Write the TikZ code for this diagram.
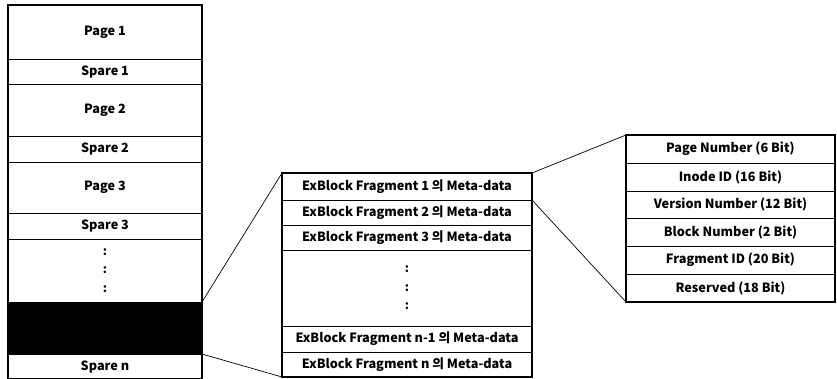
\documentclass[tikz,border=0pt]{standalone}
\usepackage{fontspec}
\setmainfont{Noto Sans CJK KR}
\begin{document}
\begin{tikzpicture}[x=1pt,y=-1pt,
  cell/.style={draw, line width=0.8pt, inner sep=0pt, outer sep=0pt, anchor=north west,
    font=\fontsize{12.7}{14}\selectfont\bfseries, text=black},
  lcell/.style={cell, minimum width=194pt},
  mcell/.style={cell, minimum width=250pt},
  rcell/.style={cell, minimum width=209pt},
  frame/.style={draw, line width=2.2pt},
  link/.style={draw, line width=0.7pt},
  dotsL/.style={align=center, font=\fontsize{12}{18.5}\selectfont\bfseries}]
\useasboundingbox (0,0) rectangle (837,378);
% left column
\node[lcell, minimum height=54pt] (p1) at (8,5) {Page 1};
\node[lcell, minimum height=25pt] (s1) at (p1.south west) {Spare 1};
\node[lcell, minimum height=52pt] (p2) at (s1.south west) {Page 2};
\node[lcell, minimum height=26pt] (s2) at (p2.south west) {Spare 2};
\node[lcell, minimum height=51pt] (p3) at (s2.south west) {Page 3};
\node[lcell, minimum height=26pt] (s3) at (p3.south west) {Spare 3};
\node[lcell, minimum height=63pt, dotsL] (ld) at (s3.south west) {:\\:\\:};
\node[lcell, minimum height=52pt, fill=black] (blk) at (ld.south west) {};
\node[lcell, minimum height=25pt] (sn) at (blk.south west) {Spare n};
\draw[frame] (p1.north west) rectangle (sn.south east);
% middle column
\node[mcell, minimum height=27pt] (m1) at (282,173) {ExBlock Fragment 1 의 Meta-data};
\node[mcell, minimum height=25pt] (m2) at (m1.south west) {ExBlock Fragment 2 의 Meta-data};
\node[mcell, minimum height=25pt] (m3) at (m2.south west) {ExBlock Fragment 3 의 Meta-data};
\node[mcell, minimum height=76pt, dotsL] (md) at (m3.south west) {:\\:\\:};
\node[mcell, minimum height=26pt] (mn1) at (md.south west) {ExBlock Fragment n-1 의 Meta-data};
\node[mcell, minimum height=25pt] (mn) at (mn1.south west) {ExBlock Fragment n 의 Meta-data};
\draw[frame] (m1.north west) rectangle (mn.south east);
% right column
\node[rcell, minimum height=28pt] (r1) at (626,135) {Page Number (6 Bit)};
\node[rcell, minimum height=28pt] (r2) at (r1.south west) {Inode ID (16 Bit)};
\node[rcell, minimum height=27pt] (r3) at (r2.south west) {Version Number (12 Bit)};
\node[rcell, minimum height=28pt] (r4) at (r3.south west) {Block Number (2 Bit)};
\node[rcell, minimum height=28pt] (r5) at (r4.south west) {Fragment ID (20 Bit)};
\node[rcell, minimum height=28pt] (r6) at (r5.south west) {Reserved (18 Bit)};
\draw[frame] (r1.north west) rectangle (r6.south east);
% connectors
\draw[link] (blk.north east) -- (m1.north west);
\draw[link] (blk.south east) -- (mn.south west);
\draw[link] (m1.north east) -- (r1.north west);
\draw[link] (m1.south east) -- (r6.south west);
\end{tikzpicture}
\end{document}
